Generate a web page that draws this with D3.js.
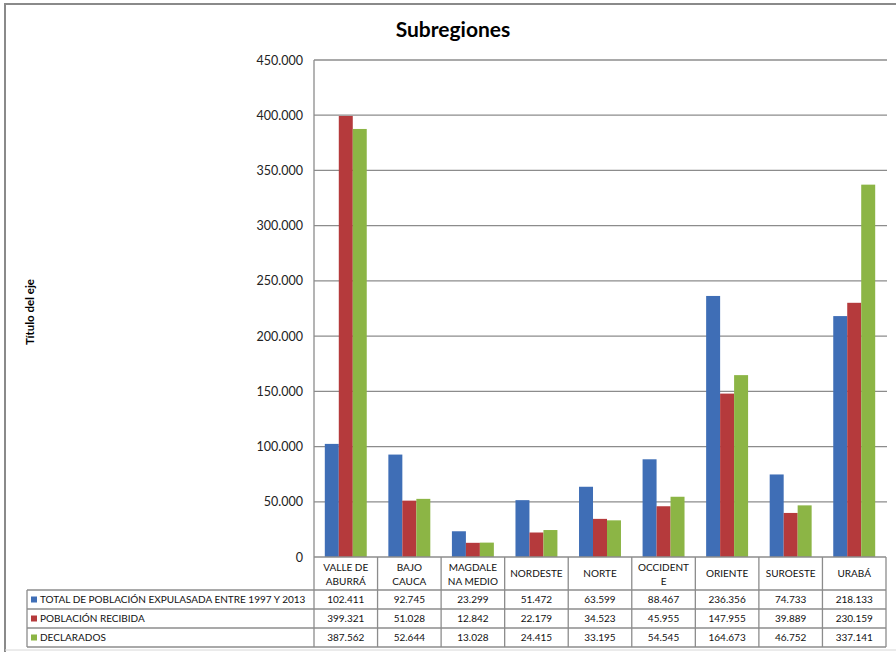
<!DOCTYPE html>
<html><head><meta charset="utf-8">
<script src="https://cdn.jsdelivr.net/npm/d3@7"></script>
<style>body{margin:0;background:#fff}svg{display:block;font-family:Lato,"Open Sans",sans-serif}</style>
</head><body><svg id="c" width="896" height="653"></svg>
<script>
const categories = ["VALLE DE ABURRÁ","BAJO CAUCA","MAGDALENA MEDIO","NORDESTE","NORTE","OCCIDENTE","ORIENTE","SUROESTE","URABÁ"];
const categoryLines = [["VALLE DE","ABURRÁ"],["BAJO","CAUCA"],["MAGDALE","NA MEDIO"],["NORDESTE"],["NORTE"],["OCCIDENT","E"],["ORIENTE"],["SUROESTE"],["URABÁ"]];
const seriesNames = ["TOTAL DE POBLACIÓN EXPULASADA ENTRE 1997 Y 2013","POBLACIÓN RECIBIDA","DECLARADOS"];
const expulsada = [102411,92745,23299,51472,63599,88467,236356,74733,218133];
const recibida = [399321,51028,12842,22179,34523,45955,147955,39889,230159];
const declarados = [387562,52644,13028,24415,33195,54545,164673,46752,337141];
const yTicks = [0,50000,100000,150000,200000,250000,300000,350000,400000,450000];
const colors = ["#3F6EB6","#B53A3C","#8CB545"];

const series = [expulsada, recibida, declarados];
const loc = d3.formatLocale({decimal:",", thousands:".", grouping:[3], currency:["$",""]});
const fmt = loc.format(",d");

const svg = d3.select("#c");
const L = 314, R = 886, T = 60, B = 557;
// outer frame
svg.append("path").attr("d","M5,652 L5,4 L896,4").attr("fill","none").attr("stroke","#8a8a8a").attr("stroke-width",2);
svg.append("line").attr("x1",5).attr("x2",896).attr("y1",650).attr("y2",650).attr("stroke","#d8d8d8");

svg.append("text").attr("x",453).attr("y",37).attr("text-anchor","middle")
  .attr("font-size",21).attr("font-weight","bold").attr("fill","#000").text("Subregiones");

const y = d3.scaleLinear().domain([0,450000]).range([B,T]);
const x0 = d3.scaleBand().domain(categories).range([L,R]).paddingInner(0).paddingOuter(0);
const bw = x0.bandwidth();
const x1 = d3.scaleBand().domain(d3.range(3)).range([bw*0.17,bw*0.83]).padding(0);

// gridlines
const yAxis = d3.axisLeft(y).tickValues(yTicks).tickFormat(d=>d===0?"0":fmt(d)).tickSize(0).tickPadding(11);
const ga = svg.append("g").attr("transform",`translate(${L},0)`).call(yAxis);
ga.select(".domain").remove();
ga.selectAll("text").attr("font-size",12.5).attr("fill","#222").attr("font-family","Lato, sans-serif");
svg.append("g").selectAll("line").data(yTicks.filter(d=>d>0)).join("line")
  .attr("x1",L).attr("x2",R+1).attr("y1",d=>y(d)).attr("y2",d=>y(d))
  .attr("stroke","#8c8c8c").attr("stroke-width",1.3);

// bars
const g = svg.append("g");
categories.forEach((c,i)=>{
  series.forEach((s,j)=>{
    g.append("rect").attr("x",x0(c)+x1(j)).attr("width",x1.bandwidth())
      .attr("y",y(s[i])).attr("height",B-y(s[i])).attr("fill",colors[j]);
  });
});
// vertical axis line
svg.append("line").attr("x1",L).attr("x2",L).attr("y1",T).attr("y2",B).attr("stroke","#8c8c8c").attr("stroke-width",1.3);

// axis title
svg.append("text").attr("transform","translate(34,312) rotate(-90)").attr("text-anchor","middle")
  .attr("font-size",11.5).attr("font-weight","bold").attr("fill","#000").text("Título del eje");

// data table
const rowTop = [590,609,628], rowH = 19, tableBottom = 647, TL = 27;
const tc = "#8c8c8c";
const tg = svg.append("g");
tg.append("line").attr("x1",L).attr("x2",R).attr("y1",B).attr("y2",B).attr("stroke",tc).attr("stroke-width",1.3);
[590,609,628,647].forEach(yy=>tg.append("line").attr("x1",TL).attr("x2",R).attr("y1",yy).attr("y2",yy).attr("stroke",tc).attr("stroke-width",1.3));
tg.append("line").attr("x1",TL).attr("x2",TL).attr("y1",590).attr("y2",tableBottom).attr("stroke",tc).attr("stroke-width",1.3);
categories.concat(["_end"]).forEach((c,i)=>{
  const xx = i<categories.length ? x0(c) : R;
  tg.append("line").attr("x1",xx).attr("x2",xx).attr("y1",B).attr("y2",tableBottom).attr("stroke",tc).attr("stroke-width",1.3);
});
categories.forEach((c,i)=>{
  const lines = categoryLines[i];
  const cx = x0(c)+bw/2;
  const t = tg.append("text").attr("text-anchor","middle").attr("font-size",10).attr("fill","#111");
  if(lines.length===1){
    t.append("tspan").attr("x",cx).attr("y",577).text(lines[0]);
  } else {
    t.append("tspan").attr("x",cx).attr("y",571).text(lines[0]);
    t.append("tspan").attr("x",cx).attr("y",585).text(lines[1]);
  }
});
series.forEach((s,j)=>{
  const yy = rowTop[j]+rowH/2+3.5;
  tg.append("rect").attr("x",31).attr("y",rowTop[j]+rowH/2-3).attr("width",6).attr("height",6).attr("fill",colors[j]);
  tg.append("text").attr("x",40).attr("y",yy).attr("font-size",10).attr("fill","#111").text(seriesNames[j]);
  categories.forEach((c,i)=>{
    tg.append("text").attr("x",x0(c)+bw/2).attr("y",yy).attr("text-anchor","middle")
      .attr("font-size",10).attr("fill","#111").text(fmt(s[i]));
  });
});
</script></body></html>
